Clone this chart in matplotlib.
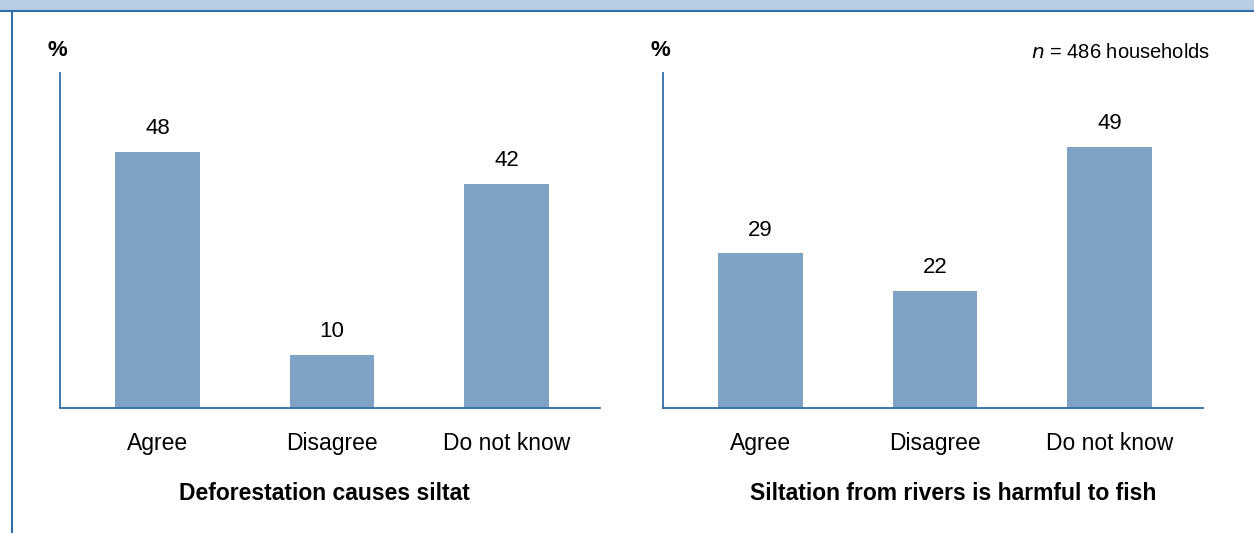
import matplotlib.pyplot as plt
from matplotlib.patches import Rectangle
from matplotlib.lines import Line2D

plt.rcParams['font.family'] = ['Liberation Sans', 'DejaVu Sans']

categories = ["Agree", "Disagree", "Do not know"]
deforestation = [48, 10, 42]
siltation = [29, 22, 49]
titles = ["Deforestation causes siltat", "Siltation from rivers is harmful to fish"]

bar_color = "#7fa3c7"
line_color = "#2f6ea6"

fig = plt.figure(figsize=(12.54, 5.33), dpi=100)
W, H = 1254, 533

# header band and frame lines
fig.patches.append(Rectangle((0, 1 - 10 / H), 1, 10 / H, transform=fig.transFigure,
                             facecolor="#b9cde5", edgecolor="none"))
fig.lines.append(Line2D([0, 1], [1 - 11 / H, 1 - 11 / H], transform=fig.transFigure,
                        color=line_color, lw=1.5))
fig.lines.append(Line2D([12 / W, 12 / W], [0, 1 - 11 / H], transform=fig.transFigure,
                        color=line_color, lw=1.5))

panels = [(60, deforestation, titles[0], 324), (663, siltation, titles[1], 953)]
for x0, vals, title, tx in panels:
    ax = fig.add_axes([x0 / W, 1 - 408 / H, 540 / W, 335 / H])
    x = range(len(categories))
    ax.bar(x, vals, width=0.487, color=bar_color)
    for xi, v in zip(x, vals):
        ax.annotate(str(v), (xi, v), xytext=(0, 9), textcoords="offset points",
                    ha="center", va="bottom", fontsize=16)
    ax.set_xlim(-0.559, 2.536)
    ax.set_ylim(0, 62.8)
    ax.set_xticks(list(x))
    ax.set_xticklabels(categories, fontsize=16.5)
    ax.set_yticks([])
    ax.tick_params(axis="x", length=0, pad=17)
    for s in ["top", "right"]:
        ax.spines[s].set_visible(False)
    for s in ["left", "bottom"]:
        ax.spines[s].set_color(line_color)
        ax.spines[s].set_linewidth(1.3)
    fig.text((x0 - 3) / W, 1 - 51 / H, "%", ha="center", va="center",
             fontsize=16, fontweight="bold")
    fig.text(tx / W, 1 - 493 / H, title, ha="center", va="center",
             fontsize=16.5, fontweight="bold")

fig.text(1210 / W, 1 - 52 / H, r"$n$ = 486 households", ha="right", va="center",
         fontsize=14.5)

fig.savefig("out.png", dpi=100)
